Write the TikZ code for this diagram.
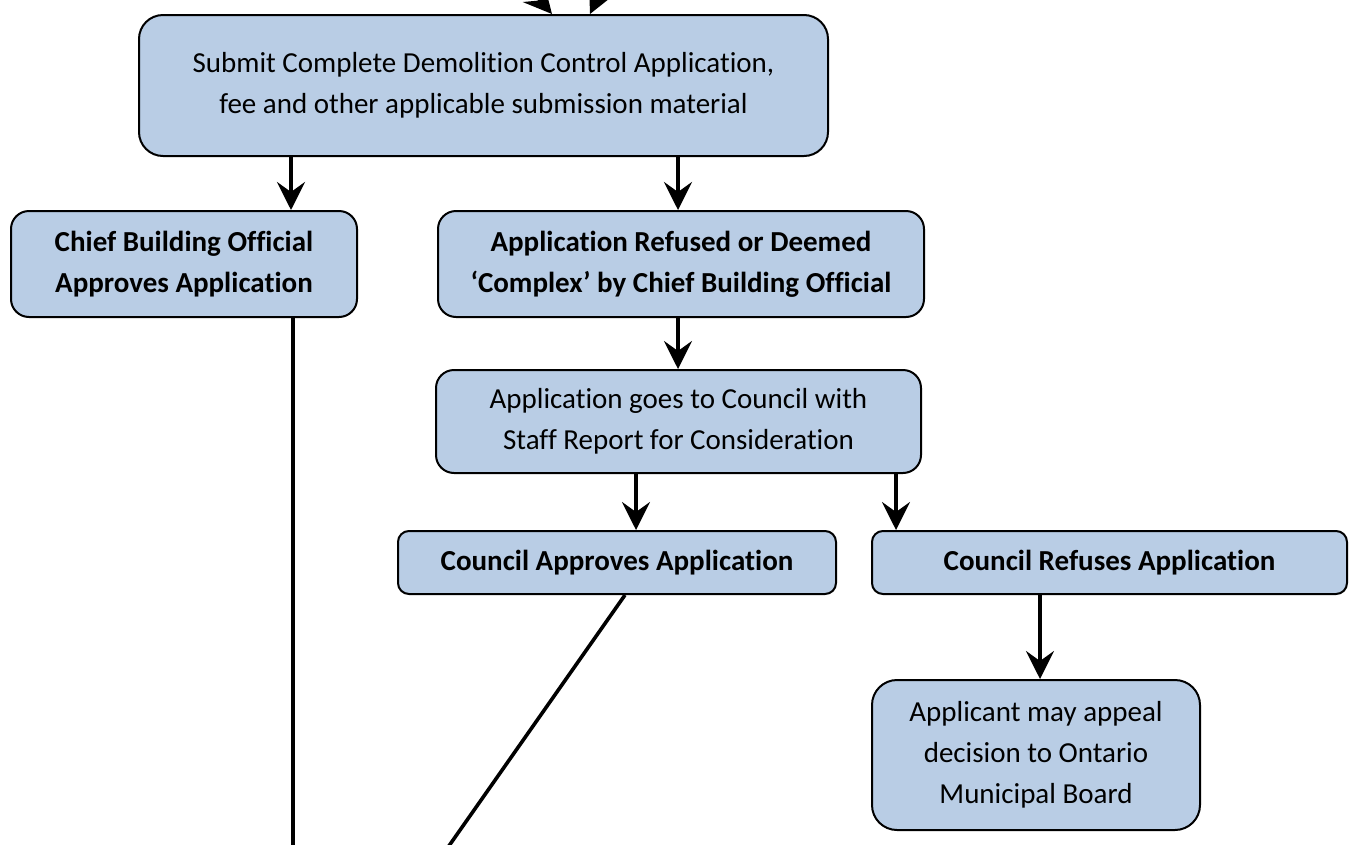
\documentclass[tikz,border=0pt]{standalone}
\usepackage{fontspec}
\setmainfont{Carlito}[Ligatures=NoCommon]
\usetikzlibrary{arrows.meta}
\definecolor{boxblue}{HTML}{B9CDE5}
\tikzset{
  box/.style={draw=black, line width=2pt, fill=boxblue, rounded corners=#1,
    align=center, inner sep=0pt, font=\fontsize{29}{41}\selectfont},
  box/.default=18pt,
  bold/.style={font=\fontsize{29}{41}\selectfont\bfseries},
  link/.style={line width=3.6pt, -{Stealth[length=28pt, width=28pt, inset=10pt]}},
  plain/.style={line width=3.6pt}
}
\begin{document}
\begin{tikzpicture}[x=1pt, y=-1pt]
  \useasboundingbox (0,0) rectangle (1353,844);
  \clip (0,0) rectangle (1353,844);

  % boxes
  \node[box=24pt, minimum width=689pt, minimum height=141pt] (submit) at (483.5,85.5)
    {Submit Complete Demolition Control Application,\\fee and other applicable submission material};
  \node[box, bold, minimum width=346pt, minimum height=106pt] (cbo) at (184,264)
    {Chief Building Official\\Approves Application};
  \node[box, bold, minimum width=486pt, minimum height=106pt] (refused) at (681,264)
    {Application Refused or Deemed\\‘Complex’ by Chief Building Official};
  \node[box, minimum width=485pt, minimum height=103pt] (council) at (678.5,421.5)
    {Application goes to Council with\\Staff Report for Consideration};
  \node[box=11pt, bold, minimum width=438pt, minimum height=63pt] (capprove) at (617,562.5)
    {Council Approves Application};
  \node[box=11pt, bold, minimum width=475pt, minimum height=63pt] (crefuse) at (1109.5,562.5)
    {Council Refuses Application};
  \node[box=25pt, minimum width=328pt, minimum height=150pt] (appeal) at (1036,755)
    {Applicant may appeal\\decision to Ontario\\Municipal Board};

  % connector positions
  \coordinate (xa) at (291,0);
  \coordinate (xb) at (678,0);
  \coordinate (xc) at (636,0);
  \coordinate (xd) at (896,0);
  \coordinate (xe) at (1040,0);
  \coordinate (tipa) at (552,0);
  \coordinate (tipb) at (590,0);
  \coordinate (ina) at (505,-40);
  \coordinate (inb) at (615,-40);
  \coordinate (cboend) at (293,880);
  \coordinate (capstart) at (625,0);
  \coordinate (capend) at (425,880);

  % arrows
  \draw[link] (ina) -- (submit.north -| tipa);
  \draw[link] (inb) -- (submit.north -| tipb);
  \draw[link] (submit.south -| xa) -- (cbo.north -| xa);
  \draw[link] (submit.south -| xb) -- (refused.north -| xb);
  \draw[link] (refused.south -| xb) -- (council.north -| xb);
  \draw[link] (council.south -| xc) -- (capprove.north -| xc);
  \draw[link] (council.south -| xd) -- (crefuse.north -| xd);
  \draw[link] (crefuse.south -| xe) -- (appeal.north -| xe);

  % lines running off the page
  \draw[plain] (cbo.south -| cboend) -- (cboend);
  \draw[plain] (capprove.south -| capstart) -- (capend);
\end{tikzpicture}
\end{document}
